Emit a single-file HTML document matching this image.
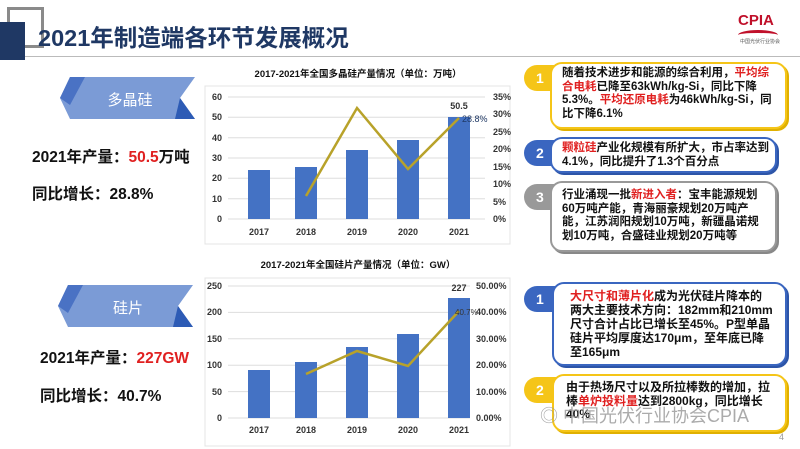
<!DOCTYPE html>
<html><head><meta charset="utf-8"><style>
*{margin:0;padding:0;box-sizing:border-box}
body{width:800px;height:449px;overflow:hidden;background:#fff;position:relative;font-family:"Liberation Sans","Noto Sans CJK SC",sans-serif;}
.a{position:absolute}
.t{font-weight:bold;color:#111;white-space:nowrap}
.r{color:#e02020}
.box{position:absolute;background:#fff;border-radius:12px;font-size:11.5px;font-weight:bold;line-height:13.5px;color:#111;padding:3px 6px 3px 10px}
.badge{position:absolute;width:40px;height:26px;border-radius:13px 0 0 13px;color:#fff;font-size:14px;padding-left:12px;line-height:26px;font-weight:bold}
</style></head><body>
<div class="a" style="left:7px;top:7px;width:37px;height:41px;border:3px solid #8a8a8a"></div>
<div class="a" style="left:0;top:22px;width:25px;height:38px;background:#1f3864"></div>
<div class="a" style="left:25px;top:56px;width:775px;height:1px;background:#bbb"></div>
<div class="a t" style="left:38px;top:19px;font-size:23.5px;color:#1f3864">2021年制造端各环节发展概况</div>
<div class="a" style="left:738px;top:12px;font-size:15px;font-weight:bold;color:#c0102a;font-family:'Liberation Sans Narrow','Liberation Sans',sans-serif">CPIA</div>
<div class="a" style="left:738px;top:30px;width:40px;height:10px;border-top:3px solid #c0102a;border-radius:50% 50% 0 0"></div>
<div class="a" style="left:740px;top:38px;font-size:5px;color:#555">中国光伏行业协会</div>

<svg class="a" style="left:60px;top:75px" width="140" height="46">
<polygon points="10,2 135,2 120,23 135,44 10,44 0,23" fill="#7b9bd6"/>
<polygon points="10,2 25,2 10,30 0,23" fill="#4a72c4"/><polygon points="120,23 135,44 115,44" fill="#2d5bb5"/>
<text x="70" y="30" font-size="15" fill="#fff" text-anchor="middle" font-family="Noto Sans CJK SC">多晶硅</text></svg>
<svg class="a" style="left:58px;top:283px" width="140" height="46">
<polygon points="10,2 135,2 120,23 135,44 10,44 0,23" fill="#7b9bd6"/>
<polygon points="10,2 25,2 10,30 0,23" fill="#4a72c4"/><polygon points="120,23 135,44 115,44" fill="#2d5bb5"/>
<text x="70" y="30" font-size="15" fill="#fff" text-anchor="middle" font-family="Noto Sans CJK SC">硅片</text></svg>
<div class="a t" style="left:32px;top:145px;font-size:15.5px">2021年产量：<span class="r">50.5</span>万吨</div>
<div class="a t" style="left:32px;top:182px;font-size:15.5px">同比增长：28.8%</div>
<div class="a t" style="left:40px;top:346px;font-size:15.5px">2021年产量：<span class="r">227GW</span></div>
<div class="a t" style="left:40px;top:384px;font-size:15.5px">同比增长：40.7%</div>

<svg class="a" style="left:0;top:0" width="800" height="449" font-family="Liberation Sans,Noto Sans CJK SC" font-weight="bold" font-size="9" fill="#333">
<rect x="205" y="86" width="305" height="158" fill="none" stroke="#e4e4e4"/>
<text x="358" y="77" text-anchor="middle" font-size="9.5" fill="#111">2017-2021年全国多晶硅产量情况（单位：万吨）</text>
<g stroke="#ddd"><line x1="228" x2="485" y1="97" y2="97"/><line x1="228" x2="485" y1="117.3" y2="117.3"/><line x1="228" x2="485" y1="137.7" y2="137.7"/><line x1="228" x2="485" y1="158" y2="158"/><line x1="228" x2="485" y1="178.3" y2="178.3"/><line x1="228" x2="485" y1="198.7" y2="198.7"/><line x1="228" x2="485" y1="219" y2="219"/></g>
<g text-anchor="end"><text x="222" y="100">60</text><text x="222" y="120">50</text><text x="222" y="141">40</text><text x="222" y="161">30</text><text x="222" y="181">20</text><text x="222" y="202">10</text><text x="222" y="222">0</text></g>
<g><text x="493" y="100">35%</text><text x="493" y="117">30%</text><text x="493" y="135">25%</text><text x="493" y="152">20%</text><text x="493" y="170">15%</text><text x="493" y="187">10%</text><text x="493" y="205">5%</text><text x="493" y="222">0%</text></g>
<g fill="#4472c4"><rect x="248" y="170" width="22" height="49"/><rect x="295" y="167" width="22" height="52"/><rect x="346" y="150" width="22" height="69"/><rect x="397" y="140" width="22" height="79"/><rect x="448" y="117" width="22" height="102"/></g>
<polyline points="306,196 357,108 408,169 459,118" fill="none" stroke="#b8a22a" stroke-width="2.5"/>
<g text-anchor="middle"><text x="259" y="235">2017</text><text x="306" y="235">2018</text><text x="357" y="235">2019</text><text x="408" y="235">2020</text><text x="459" y="235">2021</text></g>
<text x="459" y="109" text-anchor="middle">50.5</text><text x="462" y="122" fill="#1f3864" font-weight="normal">28.8%</text>

<rect x="205" y="278" width="305" height="168" fill="none" stroke="#e4e4e4"/>
<text x="358" y="268" text-anchor="middle" font-size="9.5" fill="#111">2017-2021年全国硅片产量情况（单位：GW）</text>
<g stroke="#ddd"><line x1="228" x2="470" y1="286" y2="286"/><line x1="228" x2="470" y1="312.4" y2="312.4"/><line x1="228" x2="470" y1="338.8" y2="338.8"/><line x1="228" x2="470" y1="365.2" y2="365.2"/><line x1="228" x2="470" y1="391.6" y2="391.6"/><line x1="228" x2="470" y1="418" y2="418"/></g>
<g text-anchor="end"><text x="222" y="289">250</text><text x="222" y="315">200</text><text x="222" y="342">150</text><text x="222" y="368">100</text><text x="222" y="395">50</text><text x="222" y="421">0</text></g>
<g><text x="476" y="289">50.00%</text><text x="476" y="315">40.00%</text><text x="476" y="342">30.00%</text><text x="476" y="368">20.00%</text><text x="476" y="395">10.00%</text><text x="476" y="421">0.00%</text></g>
<g fill="#4472c4"><rect x="248" y="370" width="22" height="48"/><rect x="295" y="362" width="22" height="56"/><rect x="346" y="347" width="22" height="71"/><rect x="397" y="334" width="22" height="84"/><rect x="448" y="298" width="22" height="120"/></g>
<polyline points="306,374 357,351 408,366 459,311" fill="none" stroke="#b8a22a" stroke-width="2.5"/>
<g text-anchor="middle"><text x="259" y="433">2017</text><text x="306" y="433">2018</text><text x="357" y="433">2019</text><text x="408" y="433">2020</text><text x="459" y="433">2021</text></g>
<text x="459" y="291" text-anchor="middle">227</text><text x="455" y="315" font-weight="normal" font-size="8">40.7%</text>
</svg>

<div class="badge" style="left:524px;top:65px;background:#f5c518">1</div>
<div class="box" style="left:550px;top:62px;width:237px;height:67px;border:2px solid #f5c518;box-shadow:2px 2px 0 #e0b000">随着技术进步和能源的综合利用，<span class="r">平均综合电耗</span>已降至63kWh/kg-Si，同比下降5.3%。<span class="r">平均还原电耗</span>为46kWh/kg-Si，同比下降6.1%</div>
<div class="badge" style="left:524px;top:140px;background:#3a66c0">2</div>
<div class="box" style="left:550px;top:137px;width:227px;height:36px;border:2px solid #3a66c0;box-shadow:2px 2px 0 #2d55a8"><span class="r">颗粒硅</span>产业化规模有所扩大，市占率达到4.1%，同比提升了1.3个百分点</div>
<div class="badge" style="left:524px;top:184px;background:#999">3</div>
<div class="box" style="left:550px;top:181px;width:227px;height:71px;border:2px solid #999;box-shadow:2px 2px 0 #888;padding-top:6px">行业涌现一批<span class="r">新进入者</span>：宝丰能源规划60万吨产能，青海丽豪规划20万吨产能，江苏润阳规划10万吨，新疆晶诺规划10万吨，合盛硅业规划20万吨等</div>
<div class="badge" style="left:524px;top:286px;background:#3a66c0">1</div>
<div class="box" style="left:552px;top:282px;width:235px;height:84px;border:2px solid #3a66c0;box-shadow:2px 2px 0 #2d55a8;padding:5px 12px 3px 16px;font-size:12px;line-height:14px"><span class="r">大尺寸和薄片化</span>成为光伏硅片降本的两大主要技术方向：182mm和210mm尺寸合计占比已增长至45%。P型单晶硅片平均厚度达170μm，至年底已降至165μm</div>
<div class="badge" style="left:524px;top:377px;background:#f5c518">2</div>
<div class="box" style="left:552px;top:374px;width:235px;height:58px;border:2px solid #f5c518;box-shadow:2px 2px 0 #e0b000;padding:5px 10px 3px 12px;font-size:12px">由于热场尺寸以及所拉棒数的增加，拉棒<span class="r">单炉投料量</span>达到2800kg，同比增长40%</div>
<div class="a" style="left:540px;top:402px;font-size:18px;color:rgba(150,150,150,0.8)">◎ 中国光伏行业协会CPIA</div>
<div class="a" style="left:779px;top:432px;font-size:9px;color:#999">4</div>
</body></html>
